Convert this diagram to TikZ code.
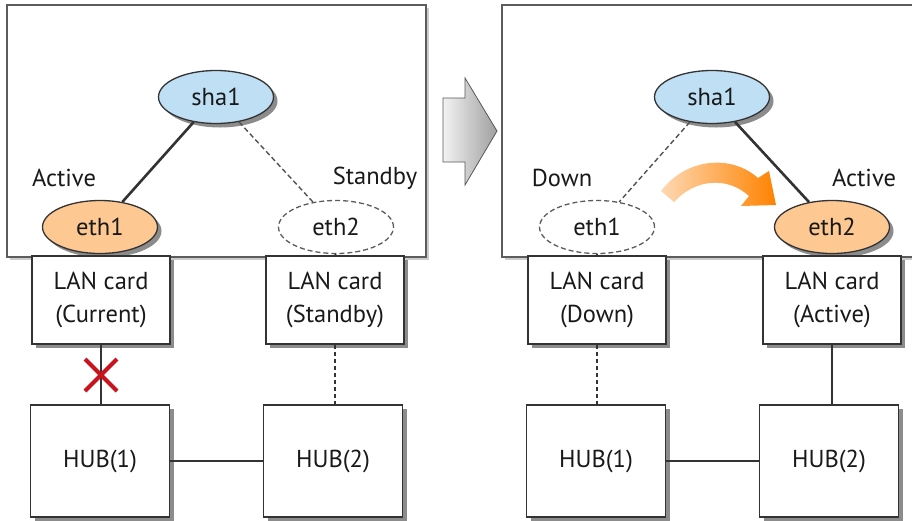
\documentclass[tikz,border=0pt]{standalone}
\usepackage{fontspec}
\setmainfont{PT Sans}
\usetikzlibrary{shapes.geometric}
\definecolor{shablue}{HTML}{BEDFF4}
\definecolor{ethorange}{HTML}{FDC892}
\definecolor{linegray}{HTML}{333333}
\definecolor{xred}{HTML}{C8141E}
\definecolor{arrorange}{HTML}{FF8200}
\definecolor{shadowgray}{HTML}{8C8C8C}
\tikzset{
  txt/.style={font=\fontsize{24.5}{33}\selectfont, text=black!90},
  shadowfill/.style={fill=shadowgray, draw=none},
  framebox/.style={draw=linegray!80, line width=1.6pt, fill=white, minimum width=419pt, minimum height=252pt, inner sep=0pt},
  ethell/.style={ellipse, draw=linegray, line width=1.3pt, minimum width=115pt, minimum height=53pt, inner sep=0pt, txt},
  downell/.style={ellipse, draw=linegray!80, dash pattern=on 5pt off 3pt, line width=1.3pt, minimum width=115pt, minimum height=53pt, inner sep=0pt, txt},
  lanbox/.style={draw=linegray, line width=1.5pt, fill=white, minimum width=138pt, minimum height=88pt, inner sep=0pt, align=center, txt},
  hubbox/.style={draw=linegray, line width=1.5pt, fill=white, minimum width=139pt, minimum height=112pt, inner sep=0pt, txt},
  solidlink/.style={draw=linegray, line width=1.5pt},
  thicklink/.style={draw=linegray, line width=2.6pt},
  dashlink/.style={draw=linegray!85, line width=1.4pt, dash pattern=on 5pt off 3pt},
  dotlink/.style={draw=linegray, line width=2pt, dash pattern=on 4pt off 3pt},
}
% shadow drawn before a node: #1,#2 = centre, #3,#4 = width,height
\newcommand\rectshadow[4]{\fill[shadowfill] ({#1-#3/2+4},{#2-#4/2+4}) rectangle ({#1+#3/2+4},{#2+#4/2+4});}
\newcommand\ovalshadow[2]{\fill[shadowfill] ({#1+4},{#2+4}) ellipse [x radius=57.5, y radius=26.5];}
\begin{document}
\begin{tikzpicture}[x=1pt,y=-1pt]
\useasboundingbox (0,0) rectangle (912,520);
% frames
\fill[gray!40] (9.5,7.5) rectangle (428.5,259.5);
\fill[gray!40] (504.5,7.5) rectangle (927,259.5);
\node[framebox] (frameL) at (216.5,131) {};
\node[framebox, minimum width=423pt] (frameR) at (713.5,131) {};

% shadows
\ovalshadow{216}{97}\ovalshadow{100}{227}\ovalshadow{712}{97}\ovalshadow{832}{227}
\rectshadow{101}{300}{138}{88}\rectshadow{335}{300}{138}{88}
\rectshadow{100}{461}{139}{112}\rectshadow{333}{461}{139}{112}
\rectshadow{597}{300}{138}{88}\rectshadow{832}{300}{138}{88}
\rectshadow{596}{461}{139}{112}\rectshadow{829}{461}{139}{112}

% ---------- left panel ----------
\node[ethell, fill=shablue] (shaL) at (216,97) {sha1};
\node[ethell, fill=ethorange] (eth1L) at (100,227) {eth1};
\node[downell] (eth2L) at (336,227) {eth2};
\node[txt] (actL) at (64,178) {Active};
\node[txt] (stbL) at (375,178) {Standby};
\draw[thicklink] (shaL) -- (eth1L);
\draw[dashlink] (shaL) -- (eth2L);

\node[lanbox] (lan1L) at (101,300) {LAN card\\(Current)};
\node[lanbox] (lan2L) at (335,300) {LAN card\\(Standby)};
\node[hubbox] (hub1L) at (100,461) {HUB(1)};
\node[hubbox] (hub2L) at (333,461) {HUB(2)};
\draw[dotlink] (eth2L.south) -- (lan2L.north);
\draw[solidlink] (lan1L.south) -- (lan1L.south |- hub1L.north);
\draw[dotlink] (lan2L.south) -- (lan2L.south |- hub2L.north);
\draw[solidlink] (hub1L) -- (hub2L);
\coordinate (xmark) at (101,375);
\draw[xred, line width=4pt] ([shift={(-16,-16)}]xmark) -- ([shift={(16,16)}]xmark)
                            ([shift={(-16,16)}]xmark) -- ([shift={(16,-16)}]xmark);

% ---------- transition arrow ----------
\shadedraw[left color=gray!10, right color=gray!75, draw=gray!70!black, line width=0.8pt]
  (443,98) -- (465,98) -- (465,78) -- (497,131) -- (465,185) -- (465,162) -- (443,162) -- cycle;

% ---------- right panel ----------
\node[ethell, fill=shablue] (shaR) at (712,97) {sha1};
\node[downell] (eth1R) at (597,227) {eth1};
\node[ethell, fill=ethorange] (eth2R) at (832,227) {eth2};
\node[txt] (downR) at (562,178) {Down};
\node[txt] (actR) at (864,178) {Active};
\draw[dashlink] (shaR) -- (eth1R);
\draw[thicklink] (shaR) -- (eth2R);

\node[lanbox] (lan1R) at (597,300) {LAN card\\(Down)};
\node[lanbox] (lan2R) at (832,300) {LAN card\\(Active)};
\node[hubbox] (hub1R) at (596,461) {HUB(1)};
\node[hubbox] (hub2R) at (829,461) {HUB(2)};
\draw[dotlink] (eth1R.south) -- (lan1R.north);
\draw[dotlink] (lan1R.south) -- (lan1R.south |- hub1R.north);
\draw[solidlink] (lan2R.south) -- (lan2R.south |- hub2R.north);
\draw[solidlink] (hub1R) -- (hub2R);

% orange failover arrow
\shade[left color=ethorange!70, right color=arrorange]
  (661,191) .. controls (686,158) and (731,154) .. (758,178)
  -- (769,171) -- (776,205) -- (741,206) -- (749,196)
  .. controls (727,176) and (695,179) .. (674,202) -- cycle;
\end{tikzpicture}
\end{document}
